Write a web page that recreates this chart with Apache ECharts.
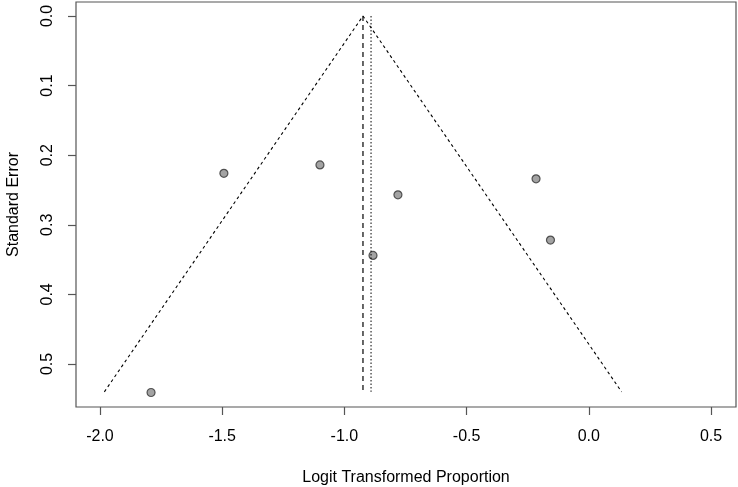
<!DOCTYPE html>
<html>
<head>
<meta charset="utf-8">
<script src="https://cdn.jsdelivr.net/npm/echarts@6/dist/echarts.min.js"></script>
<style>
  html, body { margin: 0; padding: 0; background: #fff; }
  #main { width: 738px; height: 487px; }
</style>
</head>
<body>
<div id="main"></div>
<script>
// study estimates (logit proportion) and their standard errors
var estimates = [-1.791, -1.493, -1.100, -0.781, -0.883, -0.216, -0.157];
var stdErrors = [0.541, 0.226, 0.214, 0.257, 0.344, 0.234, 0.322];

// pooled estimates and funnel outline
var pooledDashed = -0.924;
var pooledDotted = -0.891;
var funnelX = [-1.982, -0.924, 0.134];
var funnelSE = [0.540, 0.0, 0.540];

var xTicks = [-2.0, -1.5, -1.0, -0.5, 0.0, 0.5];
var yTicks = [0.0, 0.1, 0.2, 0.3, 0.4, 0.5];

var myChart = echarts.init(document.getElementById('main'));

var font = 'Liberation Sans, Arial, sans-serif';

var option = {
	animation: false,
	backgroundColor: '#ffffff',
	grid: {
		left: 76,
		right: 2,
		top: 2,
		bottom: 80,
		outerBoundsMode: 'none',
		containLabel: false,
		show: true,
		borderColor: '#555555',
		borderWidth: 1.2,
		backgroundColor: 'transparent'
	},
	xAxis: {
		type: 'value',
		min: -2.098,
		max: 0.602,
		splitLine: { show: false },
		axisLine: { show: false, onZero: false },
		axisTick: {
			show: true,
			length: 8,
			customValues: xTicks,
			lineStyle: { color: '#555555', width: 1.2 }
		},
		axisLabel: {
			customValues: xTicks,
			margin: 22,
			color: '#000',
			fontSize: 16,
			fontFamily: font,
			formatter: function (v) { return v.toFixed(1); }
		},
		name: 'Logit Transformed Proportion',
		nameLocation: 'middle',
		nameGap: 63,
		nameTextStyle: { color: '#000', fontSize: 16, fontFamily: font }
	},
	yAxis: {
		type: 'value',
		inverse: true,
		min: -0.0201,
		max: 0.5618,
		splitLine: { show: false },
		axisLine: { show: false, onZero: false },
		axisTick: {
			show: true,
			length: 8,
			customValues: yTicks,
			lineStyle: { color: '#555555', width: 1.2 }
		},
		axisLabel: {
			customValues: yTicks,
			rotate: 90,
			margin: 20,
			color: '#000',
			fontSize: 16,
			fontFamily: font,
			formatter: function (v) { return v.toFixed(1); }
		},
		name: 'Standard Error',
		nameLocation: 'middle',
		nameGap: 54,
		nameTextStyle: { color: '#000', fontSize: 16, fontFamily: font }
	},
	series: [
		{
			name: 'funnel',
			type: 'line',
			symbol: 'none',
			silent: true,
			data: funnelX.map(function (x, i) { return [x, funnelSE[i]]; }),
			lineStyle: { color: '#000', width: 1.1, type: [3, 3] }
		},
		{
			name: 'pooled dashed',
			type: 'line',
			symbol: 'none',
			silent: true,
			data: [[pooledDashed, funnelSE[1]], [pooledDashed, funnelSE[0]]],
			lineStyle: { color: '#000', width: 1.2, type: [5, 4] }
		},
		{
			name: 'pooled dotted',
			type: 'line',
			symbol: 'none',
			silent: true,
			data: [[pooledDotted, funnelSE[1]], [pooledDotted, funnelSE[0]]],
			lineStyle: { color: '#000', width: 1, type: [1.5, 2] }
		},
		{
			name: 'studies',
			type: 'scatter',
			symbol: 'circle',
			symbolSize: 8,
			data: estimates.map(function (x, i) { return [x, stdErrors[i]]; }),
			itemStyle: { color: '#8c8c8c', borderColor: '#333333', borderWidth: 1.2 }
		}
	]
};

myChart.setOption(option);
</script>
</body>
</html>
